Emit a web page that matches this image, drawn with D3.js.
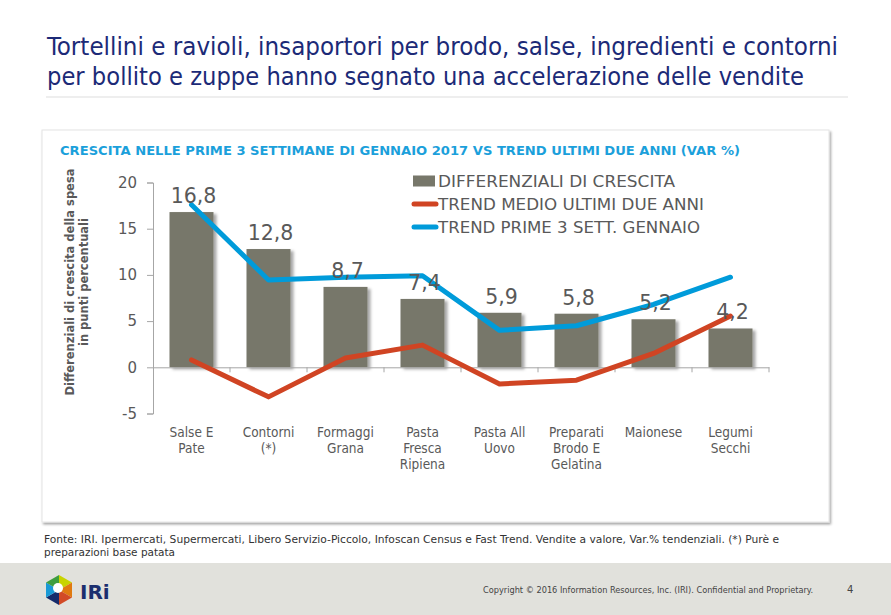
<!DOCTYPE html>
<html>
<head>
<meta charset="utf-8">
<script src="https://cdn.jsdelivr.net/npm/d3@7"></script>
<style>
  html, body { margin: 0; padding: 0; background: #fff; }
  svg { display: block; }
</style>
</head>
<body>
<svg id="chart" width="891" height="615"></svg>
<script>
// ---------- DATA ----------
const categories = ["Salse E Pate", "Contorni (*)", "Formaggi Grana", "Pasta Fresca Ripiena",
                    "Pasta All Uovo", "Preparati Brodo E Gelatina", "Maionese", "Legumi Secchi"];
const categoryLines = [["Salse E", "Pate"], ["Contorni", "(*)"], ["Formaggi", "Grana"],
                       ["Pasta", "Fresca", "Ripiena"], ["Pasta All", "Uovo"],
                       ["Preparati", "Brodo E", "Gelatina"], ["Maionese"], ["Legumi", "Secchi"]];
const differenziali = [16.8, 12.8, 8.7, 7.4, 5.9, 5.8, 5.2, 4.2];
const trendMedio = [0.8, -3.2, 1.0, 2.4, -1.8, -1.4, 1.5, 5.55];
const trendGennaio = [17.6, 9.45, 9.75, 9.9, 4.0, 4.5, 6.8, 9.75];
const yTicks = [-5, 0, 5, 10, 15, 20];
const seriesNames = ["DIFFERENZIALI DI CRESCITA", "TREND MEDIO ULTIMI DUE ANNI", "TREND PRIME 3 SETT. GENNAIO"];
const titleLines = ["Tortellini e ravioli, insaportori per brodo, salse, ingredienti e contorni",
                    "per bollito e zuppe hanno segnato una accelerazione delle vendite"];
const chartTitle = "CRESCITA NELLE PRIME 3 SETTIMANE DI GENNAIO 2017 VS TREND ULTIMI DUE ANNI (VAR %)";
const yTitleLines = ["Differenziali di crescita della spesa", "in punti percentuali"];
const sourceLines = ["Fonte: IRI. Ipermercati, Supermercati, Libero Servizio-Piccolo, Infoscan Census e Fast Trend. Vendite a valore, Var.% tendenziali. (*) Purè e",
                     "preparazioni base patata"];
const copyright = "Copyright © 2016 Information Resources, Inc. (IRI). Confidential and Proprietary.";
const pageNumber = "4";

// ---------- COLORS ----------
const cBar = "#77776A", cRed = "#D04423", cBlue = "#009BDA", cText = "#595959", cAxis = "#A6A6A6";
const cTitle = "#1C2A77", cChartTitle = "#1BA0DB";

const svg = d3.select("#chart");
const defs = svg.append("defs");
const fBar = defs.append("filter").attr("id", "barShadow").attr("x", "-20%").attr("y", "-20%").attr("width", "150%").attr("height", "150%");
fBar.append("feDropShadow").attr("dx", 3).attr("dy", 2).attr("stdDeviation", 1.5).attr("flood-color", "#000").attr("flood-opacity", 0.35);
const fPanel = defs.append("filter").attr("id", "panelShadow").attr("x", "-5%").attr("y", "-5%").attr("width", "110%").attr("height", "110%");
fPanel.append("feDropShadow").attr("dx", 1.5).attr("dy", 2).attr("stdDeviation", 1.2).attr("flood-color", "#000").attr("flood-opacity", 0.35);

// ---------- PAGE TITLE ----------
const condensed = "'DejaVu Sans Condensed', 'DejaVu Sans', sans-serif";
const verdana = "'DejaVu Sans', Verdana, sans-serif";
svg.append("g").selectAll("text").data(titleLines).join("text")
  .attr("x", 47).attr("y", (d, i) => 55 + i * 29.5)
  .attr("font-family", condensed).attr("font-size", 25).attr("fill", cTitle)
  .attr("textLength", (d, i) => i === 0 ? 791 : 757).attr("lengthAdjust", "spacingAndGlyphs")
  .text(d => d);
svg.append("line").attr("x1", 46).attr("x2", 848).attr("y1", 97).attr("y2", 97)
  .attr("stroke", "#DDDDDD").attr("stroke-width", 1.2);

// ---------- PANEL ----------
svg.append("rect").attr("x", 42).attr("y", 130).attr("width", 787).attr("height", 392)
  .attr("fill", "#fff").attr("stroke", "#E4E4E4").attr("stroke-width", 1)
  .attr("filter", "url(#panelShadow)");

svg.append("text").attr("x", 60).attr("y", 155)
  .attr("font-family", verdana).attr("font-weight", "bold").attr("font-size", 12.5)
  .attr("fill", cChartTitle).attr("textLength", 680).attr("lengthAdjust", "spacingAndGlyphs")
  .text(chartTitle);

// ---------- SCALES ----------
const x = d3.scaleBand().domain(categories).range([153, 769]).paddingInner(0.4286).paddingOuter(0.2143);
const y = d3.scaleLinear().domain([-5, 20]).range([413.5, 182.5]);
const cx = i => x(categories[i]) + x.bandwidth() / 2;

// Y axis
const yAxis = svg.append("g").attr("transform", "translate(153,0)")
  .call(d3.axisLeft(y).tickValues(yTicks).tickSize(6).tickPadding(10).tickFormat(d => String(d)));
yAxis.select(".domain").attr("stroke", cAxis);
yAxis.selectAll(".tick line").attr("stroke", cAxis);
yAxis.selectAll(".tick text").attr("fill", cText).attr("font-family", verdana).attr("font-size", 15);

// Y axis title
const yt = svg.append("g").attr("transform", "translate(74,282) rotate(-90)");
yt.selectAll("text").data(yTitleLines).join("text")
  .attr("x", 0).attr("y", (d, i) => i * 14).attr("text-anchor", "middle")
  .attr("font-family", verdana).attr("font-weight", "bold").attr("font-size", 11.5).attr("fill", cText)
  .text(d => d);

// ---------- BARS ----------
svg.append("g").selectAll("rect").data(differenziali).join("rect")
  .attr("x", (d, i) => x(categories[i])).attr("width", x.bandwidth())
  .attr("y", d => y(Math.max(0, d))).attr("height", d => Math.abs(y(d) - y(0)))
  .attr("fill", cBar).attr("filter", "url(#barShadow)");

// X axis at zero
const xAxis = svg.append("g").attr("transform", `translate(0,${y(0)})`)
  .call(d3.axisBottom(x).tickSize(0).tickFormat(""));
xAxis.select(".domain").attr("stroke", cAxis);
xAxis.selectAll(".tick").remove();
const step = x.step();
xAxis.selectAll("line.sep").data(d3.range(1, categories.length + 1)).join("line")
  .attr("class", "sep").attr("x1", i => 153 + i * step).attr("x2", i => 153 + i * step)
  .attr("y1", 0).attr("y2", 5).attr("stroke", cAxis);

// Category labels
const catG = svg.append("g");
categoryLines.forEach((lines, i) => {
  catG.append("text").attr("x", cx(i)).attr("y", 437).attr("text-anchor", "middle")
    .attr("font-family", condensed).attr("font-size", 13.5).attr("fill", cText)
    .selectAll("tspan").data(lines).join("tspan")
    .attr("x", cx(i)).attr("dy", (d, j) => j === 0 ? 0 : 16).text(d => d);
});

// ---------- LINES ----------
const lineGen = d3.line().x((d, i) => cx(i)).y(d => y(d));
svg.append("path").datum(trendMedio).attr("d", lineGen)
  .attr("fill", "none").attr("stroke", cRed).attr("stroke-width", 5)
  .attr("stroke-linejoin", "round").attr("stroke-linecap", "round");
svg.append("path").datum(trendGennaio).attr("d", lineGen)
  .attr("fill", "none").attr("stroke", cBlue).attr("stroke-width", 5)
  .attr("stroke-linejoin", "round").attr("stroke-linecap", "round");

// Data labels
svg.append("g").selectAll("text").data(differenziali).join("text")
  .attr("x", (d, i) => cx(i) + 2).attr("y", d => y(d) - 9).attr("text-anchor", "middle")
  .attr("font-family", verdana).attr("font-size", 20.5).attr("fill", cText)
  .text(d => d.toFixed(1).replace(".", ","));

// ---------- LEGEND ----------
const leg = svg.append("g");
const legY = [181, 204, 227];
const legW = [237, 266, 262];
leg.append("rect").attr("x", 413).attr("y", legY[0] - 5.5).attr("width", 22).attr("height", 11).attr("fill", cBar);
leg.append("line").attr("x1", 414).attr("x2", 436).attr("y1", legY[1]).attr("y2", legY[1])
  .attr("stroke", cRed).attr("stroke-width", 5).attr("stroke-linecap", "round");
leg.append("line").attr("x1", 414).attr("x2", 436).attr("y1", legY[2]).attr("y2", legY[2])
  .attr("stroke", cBlue).attr("stroke-width", 5).attr("stroke-linecap", "round");
leg.selectAll("text").data(seriesNames).join("text")
  .attr("x", 438).attr("y", (d, i) => legY[i] + 5.5)
  .attr("font-family", verdana).attr("font-size", 15.5).attr("fill", cText)
  .attr("textLength", (d, i) => legW[i]).attr("lengthAdjust", "spacingAndGlyphs")
  .text(d => d);

// ---------- SOURCE ----------
svg.append("g").selectAll("text").data(sourceLines).join("text")
  .attr("x", 44).attr("y", (d, i) => 543 + i * 12.5)
  .attr("font-family", condensed).attr("font-size", 10.5).attr("fill", "#333")
  .attr("textLength", (d, i) => i === 0 ? 735 : 131).attr("lengthAdjust", "spacingAndGlyphs")
  .text(d => d);

// ---------- FOOTER ----------
svg.append("rect").attr("x", 0).attr("y", 563).attr("width", 891).attr("height", 52).attr("fill", "#E1E1DC");
svg.append("text").attr("x", 483).attr("y", 593)
  .attr("font-family", condensed).attr("font-size", 9).attr("fill", "#444")
  .attr("textLength", 330).attr("lengthAdjust", "spacingAndGlyphs").text(copyright);
svg.append("text").attr("x", 847).attr("y", 593).attr("font-family", verdana)
  .attr("font-size", 10).attr("fill", "#444").text(pageNumber);

// Logo (hexagon)
const lg = svg.append("g").attr("transform", "translate(59,590)");
const R = 15;
const hp = d3.range(6).map(k => { const a = Math.PI / 180 * (60 * k - 90); return [R * Math.cos(a), R * Math.sin(a)]; });
const segColors = ["#C8D400", "#E07A10", "#D24A26", "#162B6B", "#1A9AD6", "#3F9E3F"];
hp.forEach((p, k) => {
  const q = hp[(k + 1) % 6];
  lg.append("path").attr("d", `M0,0L${p[0]},${p[1]}L${q[0]},${q[1]}Z`).attr("fill", segColors[k]);
});
lg.append("circle").attr("cx", -1).attr("cy", -2).attr("r", 5).attr("fill", "#fff");
svg.append("text").attr("x", 80).attr("y", 599).attr("font-family", verdana).attr("font-weight", "bold")
  .attr("font-size", 20).attr("fill", "#1B2E6E").text("IRi");
</script>
</body>
</html>
